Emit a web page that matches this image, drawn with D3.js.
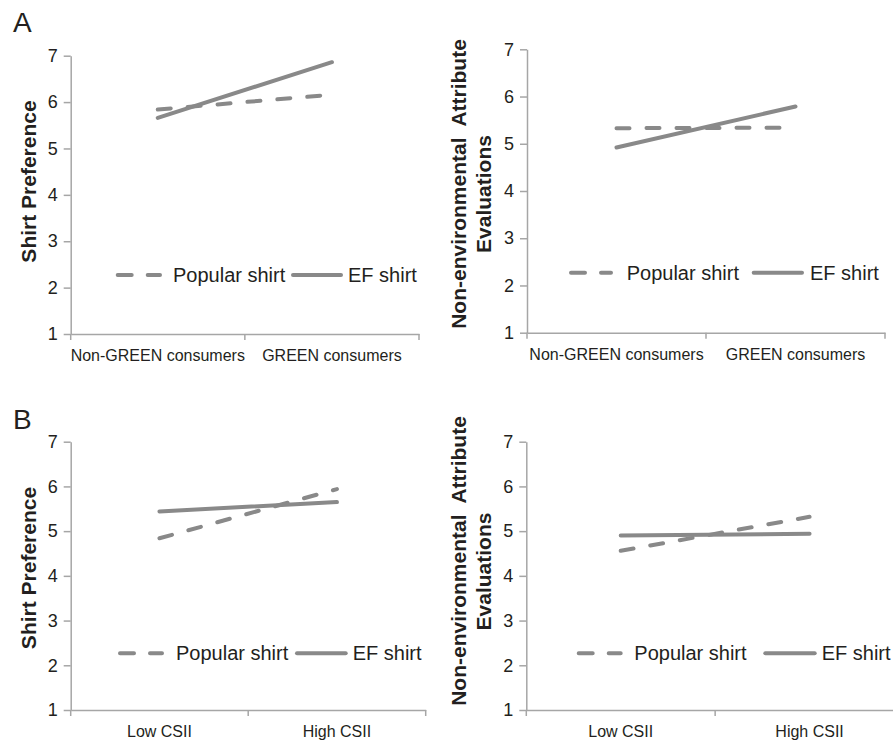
<!DOCTYPE html>
<html>
<head>
<meta charset="utf-8">
<script src="https://cdn.jsdelivr.net/npm/d3@7"></script>
<style>
  html, body { margin: 0; padding: 0; background: #fff; }
  svg { display: block; font-family: "Liberation Sans", Arial, Helvetica, sans-serif; }
</style>
</head>
<body>
<svg id="chart" width="893" height="743"></svg>
<script>
// ---------- data ----------
const panelLetters = ["A", "B"];
const categoriesA = ["Non-GREEN consumers", "GREEN consumers"];
const categoriesB = ["Low CSII", "High CSII"];
const seriesNames = ["Popular shirt", "EF shirt"];
const yTicks = [1, 2, 3, 4, 5, 6, 7];
const yTitleLeft = ["Shirt Preference"];
const yTitleRight = ["Non-environmental  Attribute", "Evaluations"];

const popularA1 = [5.84, 6.16];
const efA1      = [5.66, 6.86];
const popularA2 = [5.33, 5.34];
const efA2      = [4.92, 5.79];
const popularB1 = [4.84, 5.94];
const efB1      = [5.44, 5.65];
const popularB2 = [4.56, 5.32];
const efB2      = [4.90, 4.94];

// ---------- layout ----------
const panels = [
  { cats: categoriesA, pop: popularA1, ef: efA1, x0: 70.7, x1: 419, yTop: 55.7, yBot: 334,
    title: yTitleLeft, titlePos: [[28, 181.5]], leg: [115.7, 162, 173, 291, 343, 348] },
  { cats: categoriesA, pop: popularA2, ef: efA2, x0: 527, x1: 885, yTop: 49.3, yBot: 332.7,
    title: yTitleRight, titlePos: [[458.3, 184], [483.3, 194]], leg: [569, 613, 626.7, 751.7, 804, 810] },
  { cats: categoriesB, pop: popularB1, ef: efB1, x0: 70.7, x1: 425.7, yTop: 441.7, yBot: 710,
    title: yTitleLeft, titlePos: [[28, 568]], leg: [118, 164, 176, 295, 347.7, 352.7] },
  { cats: categoriesB, pop: popularB2, ef: efB2, x0: 526.3, x1: 904, yTop: 441.7, yBot: 710,
    title: yTitleRight, titlePos: [[458.3, 561], [483.3, 571.5]], leg: [576.7, 622.7, 634.3, 763.3, 816.7, 821.7] }
];
const letterPos = [[13, 32], [13, 429]];
const legendValue = 2.27;

const textColor = "#231f20";
const axisColor = "#a6a6a6";
const lineColor = "#898989";

const svg = d3.select("#chart");

panelLetters.forEach((L, i) => {
  svg.append("text").attr("x", letterPos[i][0]).attr("y", letterPos[i][1])
    .attr("font-size", 28).attr("fill", textColor).text(L);
});

panels.forEach(p => {
  const g = svg.append("g");
  const x = d3.scaleBand().domain(p.cats).range([p.x0, p.x1]).padding(0);
  const y = d3.scaleLinear().domain([1, 7]).range([p.yBot, p.yTop]);

  // y axis
  const ya = g.append("g").attr("transform", `translate(${p.x0},0)`)
    .call(d3.axisLeft(y).tickValues(yTicks).tickSize(7).tickSizeOuter(0).tickPadding(6).tickFormat(d3.format("d")));
  ya.select(".domain").attr("stroke", axisColor).attr("stroke-width", 1.5);
  ya.selectAll(".tick line").attr("stroke", axisColor).attr("stroke-width", 1.5);
  ya.selectAll(".tick text").attr("font-size", 18).attr("fill", textColor)
    .attr("font-family", "'Liberation Sans', Arial, sans-serif");

  // x axis (labels at band centres, ticks at band boundaries)
  const xa = g.append("g").attr("transform", `translate(0,${p.yBot})`)
    .call(d3.axisBottom(x).tickSize(0).tickPadding(0).tickSizeOuter(0));
  xa.select(".domain").attr("stroke", axisColor).attr("stroke-width", 1.5);
  xa.selectAll(".tick line").remove();
  xa.selectAll(".tick text").attr("font-size", 16).attr("fill", textColor)
    .attr("dy", null).attr("y", 27)
    .attr("font-family", "'Liberation Sans', Arial, sans-serif");
  const bounds = p.cats.map(c => x(c)).concat([x(p.cats[p.cats.length - 1]) + x.bandwidth()]);
  g.selectAll(".xbound").data(bounds).enter().append("line")
    .attr("x1", d => d).attr("x2", d => d)
    .attr("y1", p.yBot).attr("y2", p.yBot + 6)
    .attr("stroke", axisColor).attr("stroke-width", 1.5);

  // y title
  p.title.forEach((t, k) => {
    g.append("text")
      .attr("transform", `translate(${p.titlePos[k][0]},${p.titlePos[k][1]}) rotate(-90)`)
      .attr("text-anchor", "middle").attr("dy", "0.36em")
      .attr("font-size", 21).attr("font-weight", "bold").attr("fill", textColor)
      .style("white-space", "pre")
      .text(t);
  });

  // lines
  const line = d3.line().x((d, i) => x(p.cats[i]) + x.bandwidth() / 2).y(d => y(d));
  g.append("path").datum(p.pop).attr("d", line).attr("fill", "none")
    .attr("stroke", lineColor).attr("stroke-width", 4).attr("stroke-linecap", "round")
    .attr("stroke-dasharray", "13,17");
  g.append("path").datum(p.ef).attr("d", line).attr("fill", "none")
    .attr("stroke", lineColor).attr("stroke-width", 4).attr("stroke-linecap", "round");

  // legend
  const ly = y(legendValue);
  g.append("line").attr("x1", p.leg[0] + 2).attr("x2", p.leg[1] - 2).attr("y1", ly).attr("y2", ly)
    .attr("stroke", lineColor).attr("stroke-width", 4).attr("stroke-linecap", "round")
    .attr("stroke-dasharray", "14,16");
  g.append("text").attr("x", p.leg[2]).attr("y", ly).attr("dy", "0.36em")
    .attr("font-size", 20).attr("fill", textColor).text(seriesNames[0]);
  g.append("line").attr("x1", p.leg[3] + 2).attr("x2", p.leg[4] - 2).attr("y1", ly).attr("y2", ly)
    .attr("stroke", lineColor).attr("stroke-width", 4).attr("stroke-linecap", "round");
  g.append("text").attr("x", p.leg[5]).attr("y", ly).attr("dy", "0.36em")
    .attr("font-size", 20).attr("fill", textColor).text(seriesNames[1]);
});
</script>
</body>
</html>
